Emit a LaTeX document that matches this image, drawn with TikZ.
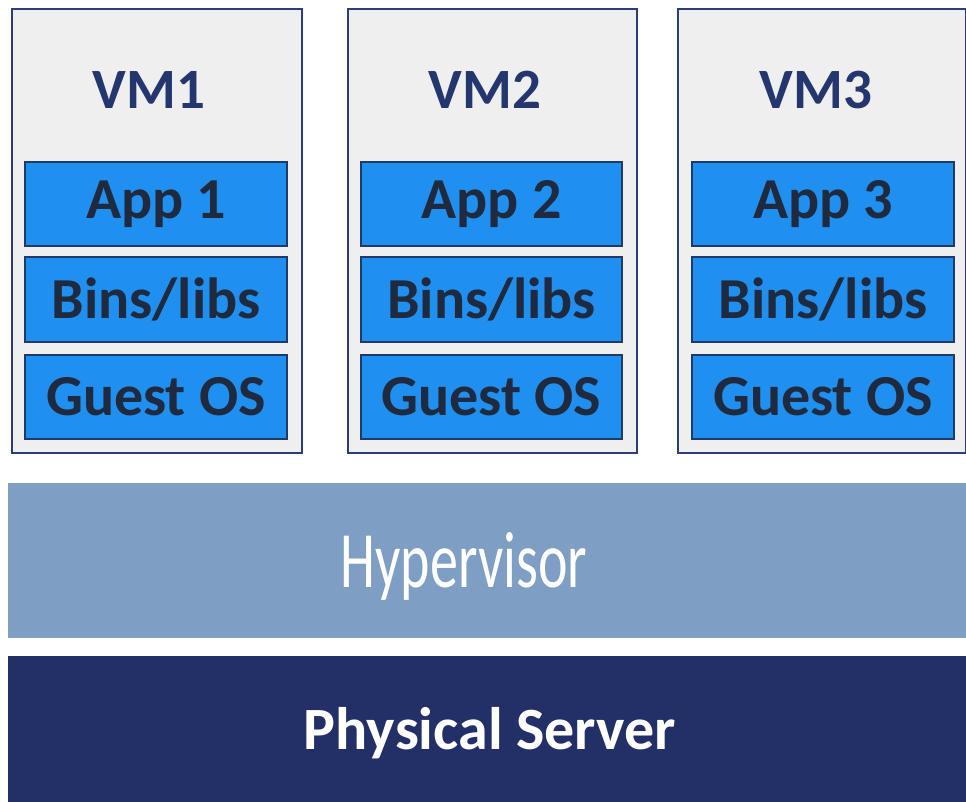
\documentclass[tikz,border=0pt]{standalone}
\usepackage{fontspec}
\setmainfont{Carlito}
\definecolor{vmfill}{HTML}{EFEFEF}
\definecolor{vmline}{HTML}{2E3C78}
\definecolor{layerfill}{HTML}{1F8FF0}
\definecolor{layerline}{HTML}{1E3A6A}
\definecolor{layertext}{HTML}{1F2A3E}
\definecolor{vmtext}{HTML}{24366E}
\definecolor{hyperfill}{HTML}{7E9EC3}
\definecolor{serverfill}{HTML}{233068}
\begin{document}
\begin{tikzpicture}[x=1pt,y=-1pt,
  vmbox/.style={draw=vmline, line width=2.5pt, fill=vmfill, inner sep=0pt},
  layer/.style={draw=layerline, line width=2pt, fill=layerfill, inner sep=0pt,
    minimum height=84pt, text=layertext, font=\bfseries\fontsize{58}{60}\selectfont},
  vmlabel/.style={text=vmtext, font=\bfseries\fontsize{57}{60}\selectfont, inner sep=0pt},
  band/.style={inner sep=0pt, text=white}]
\useasboundingbox (0,0) rectangle (966,802);
\fill[white] (0,0) rectangle (966,802);
% VM boxes
\node[vmbox, minimum width=290pt, minimum height=444pt] (vm1box) at (157,231) {};
\node[vmbox, minimum width=289pt, minimum height=444pt] (vm2box) at (492.5,231) {};
\node[vmbox, minimum width=288pt, minimum height=444pt] (vm3box) at (822,231) {};
% VM labels
\node[vmlabel] (vm1) at (149,90) {VM1};
\node[vmlabel] (vm2) at (485,90) {VM2};
\node[vmlabel] (vm3) at (816,90) {VM3};
% layers VM1
\node[layer, minimum width=262pt] (app1) at (156,204) {App 1};
\node[layer, minimum width=262pt] (bin1) at (156,299.5) {Bins/libs};
\node[layer, minimum width=262pt] (os1) at (156,396.5) {Guest OS};
% layers VM2
\node[layer, minimum width=261pt] (app2) at (491.5,204) {App 2};
\node[layer, minimum width=261pt] (bin2) at (491.5,299.5) {Bins/libs};
\node[layer, minimum width=261pt] (os2) at (491.5,396.5) {Guest OS};
% layers VM3
\node[layer, minimum width=262pt] (app3) at (823,204) {App 3};
\node[layer, minimum width=262pt] (bin3) at (823,299.5) {Bins/libs};
\node[layer, minimum width=262pt] (os3) at (823,396.5) {Guest OS};
% Hypervisor
\node[band, fill=hyperfill, minimum width=958pt, minimum height=155pt] (hyper) at (487,560.5) {};
\node[band, font=\fontsize{80}{82}\selectfont] (hyperlabel) at (464,566) {\scalebox{0.7}[1]{Hypervisor}};
% Physical server
\node[band, fill=serverfill, minimum width=958pt, minimum height=148pt] (server) at (487,730) {};
\node[band, font=\bfseries\fontsize{60}{62}\selectfont] (serverlabel) at (490,733) {Physical Server};
\end{tikzpicture}
\end{document}
